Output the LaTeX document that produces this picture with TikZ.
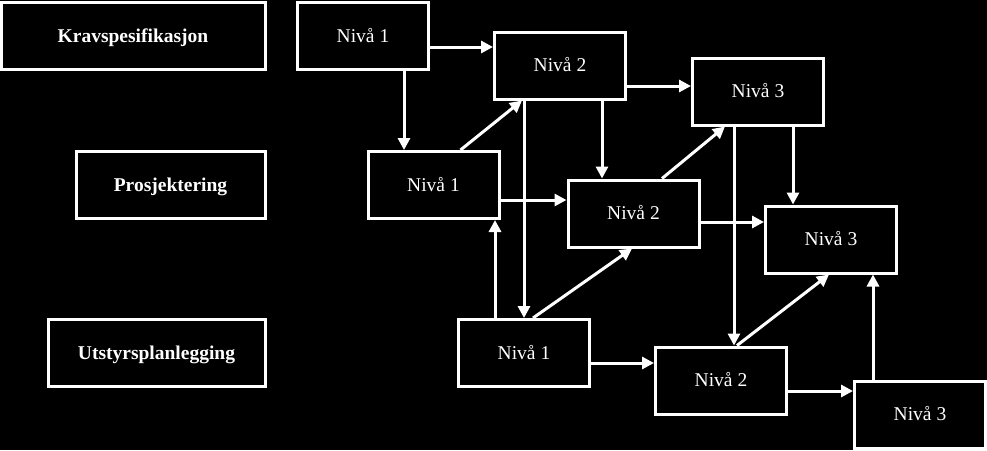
\documentclass[tikz,border=0pt]{standalone}
\usepackage{fontspec}
\setmainfont{Liberation Serif}
\usetikzlibrary{arrows.meta,calc}
\begin{document}
\begin{tikzpicture}[x=1pt,y=-1pt,
  box/.style={draw=white,line width=3pt,fill=black,text=white,inner sep=0pt,
    text height=13.5pt,text depth=1.5pt,
    minimum width=131pt,minimum height=67pt,font=\fontsize{19.5}{22}\selectfont},
  head/.style={box,font=\fontsize{19.5}{22}\selectfont\bfseries},
  conn/.style={draw=white,line width=3pt,-{Triangle[length=12pt,width=12pt]}}]
\fill[black] (0,0) rectangle (987,450);
\useasboundingbox (0,0) rectangle (987,450);
% left column
\node[head,minimum width=264pt] (k) at (133,36) {Kravspesifikasjon};
\node[head,minimum width=189pt] (p) at (170.5,185) {Prosjektering};
\node[head,minimum width=217pt] (u) at (156.5,353) {Utstyrsplanlegging};
% level boxes
\node[box] (a1) at (363,36) {Nivå 1};
\node[box] (a2) at (560,65.5) {Nivå 2};
\node[box] (a3) at (758,91.5) {Nivå 3};
\node[box] (b1) at (433.5,185) {Nivå 1};
\node[box] (b2) at (633.5,213.5) {Nivå 2};
\node[box] (b3) at (831,239.5) {Nivå 3};
\node[box] (c1) at (524,353) {Nivå 1};
\node[box] (c2) at (721,380.5) {Nivå 2};
\node[box] (c3) at (920,414.5) {Nivå 3};
% connectors
\draw[conn] ([yshift=-11pt]a1.east) -- ([yshift=-11pt]a1.east -| a2.west);
\draw[conn] ([xshift=41pt]a1.south) -- ([xshift=41pt]a1.south |- b1.north);
\draw[conn] ([xshift=27pt]b1.north) -- ([xshift=-38pt]a2.south);
\draw[conn] (c1.north |- a2.south) -- (c1.north);
\draw[conn] ([xshift=-29pt]c1.north) -- ([xshift=-29pt]c1.north |- b1.south);
\draw[conn] ([yshift=-15pt]b1.east) -- ([yshift=-15pt]b1.east -| b2.west);
\draw[conn] ([yshift=-20.5pt]a2.east) -- ([yshift=-20.5pt]a2.east -| a3.west);
\draw[conn] ([xshift=42pt]a2.south) -- ([xshift=42pt]a2.south |- b2.north);
\draw[conn] ([xshift=28.5pt]b2.north) -- ([xshift=-33pt]a3.south);
\draw[conn] ([xshift=-24pt]a3.south) -- ([xshift=-24pt]a3.south |- c2.north);
\draw[conn] ([xshift=35pt]a3.south) -- ([xshift=35pt]a3.south |- b3.north);
\draw[conn] ([yshift=-8.5pt]b2.east) -- ([yshift=-8.5pt]b2.east -| b3.west);
\draw[conn] ([xshift=9pt]c1.north) -- ([xshift=-1.5pt]b2.south);
\draw[conn] ([yshift=-10pt]c1.east) -- ([yshift=-10pt]c1.east -| c2.west);
\draw[conn] ([xshift=16pt]c2.north) -- ([xshift=-2pt]b3.south);
\draw[conn] ([yshift=-10.5pt]c2.east) -- ([yshift=-10.5pt]c2.east -| c3.west);
\draw[conn] ([xshift=-47pt]c3.north) -- ([xshift=-47pt]c3.north |- b3.south);
\end{tikzpicture}
\end{document}
